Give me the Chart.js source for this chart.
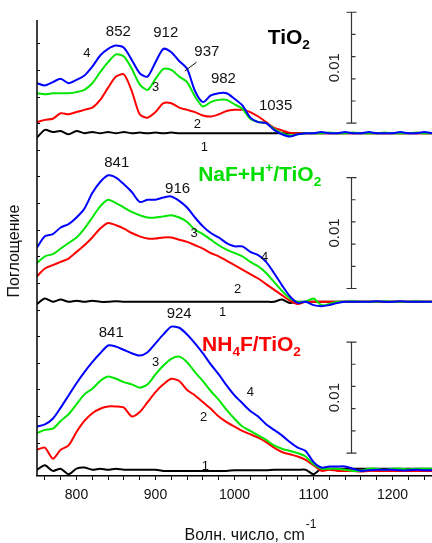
<!DOCTYPE html>
<html>
<head>
<meta charset="utf-8">
<script src="https://cdn.jsdelivr.net/npm/chart.js@4.4.1/dist/chart.umd.min.js"></script>
<style>
  html, body { margin: 0; padding: 0; background: #fff; }
</style>
</head>
<body>
<canvas id="ir-chart" width="432" height="543"></canvas>
<script>
// wavenumber grid, cm-1
const wavenumbers = [750, 760, 770, 780, 790, 800, 810, 820, 830, 840, 850, 860, 870, 880, 890, 900,
  910, 920, 930, 940, 950, 960, 970, 980, 990, 1000, 1010, 1020, 1030, 1040, 1050, 1060, 1070, 1080,
  1090, 1100, 1110, 1120, 1130, 1140, 1150, 1160, 1170, 1180, 1190, 1200, 1210, 1220, 1230, 1240, 1250];

// absorbance, units of 0.001 (scale bar = 0.01 = 10)
// TiO2
const tio2_1 = [-0.4, 0.3, 0.1, 0.2, -0.1, 0.2, 0.0, 0.1, 0.0, 0.1, 0.0, 0.1, 0.0, 0.05, 0.0, 0.05, 0.0, 0.05, 0.0, 0.0,
  0, 0, 0, 0, 0, 0, 0, 0, 0, 0, 0, 0, 0, 0, 0, 0, 0, 0, 0, 0, 0, 0, 0, 0, 0, 0, 0, 0, 0, 0, 0];
const tio2_2 = [1.0, 1.2, 1.3, 1.8, 1.7, 1.9, 2.1, 2.3, 3.0, 4.1, 5.1, 5.3, 3.8, 1.7, 1.4, 1.9, 2.7, 2.7, 2.3, 2.1,
  1.9, 1.6, 1.5, 1.7, 2.0, 2.1, 2.1, 1.9, 1.5, 1.0, 0.5, 0.25, 0.05, 0.0, 0.0,
  0, 0, 0, 0, 0, 0, 0, 0, 0, 0, 0, 0, 0, 0, 0, 0];
const tio2_3 = [3.6, 3.5, 3.6, 3.6, 3.6, 3.7, 3.9, 4.5, 5.5, 6.4, 7.1, 6.9, 5.8, 4.4, 3.9, 4.9, 5.8, 5.7, 5.1, 4.6,
  3.3, 2.4, 2.8, 3.0, 3.0, 2.6, 2.2, 1.3, 1.0, 0.9, 0.4, 0.0, -0.2, -0.1, 0.0,
  0.0, 0.0, 0.05, 0.0, 0.0, 0.05, 0.0, 0.0, 0.0, 0.05, 0.0, 0.0, 0.0, 0.05, 0.0, 0.0];
const tio2_4 = [4.5, 4.3, 4.6, 4.9, 4.5, 4.8, 5.2, 6.0, 7.0, 7.6, 7.9, 7.7, 6.6, 5.4, 5.1, 6.4, 7.6, 7.3, 6.5, 5.8,
  3.8, 2.8, 3.4, 3.6, 3.6, 3.1, 2.5, 1.4, 1.0, 0.9, 0.3, -0.1, -0.3, -0.1, 0.0,
  0.0, 0.1, 0.0, 0.0, 0.1, 0.0, 0.0, 0.1, 0.0, 0.0, 0.0, 0.1, 0.0, 0.0, 0.1, 0.0];

// NaF+H+/TiO2
const naf_1 = [-0.2, 0.3, 0.0, 0.2, 0.0, 0.1, 0.0, 0.1, 0.0, 0.0, 0.05, 0, 0, 0, 0, 0, 0, 0, 0, 0,
  0, 0, 0, 0, 0, 0, 0, 0, 0, 0, 0, 0.2, -0.1, 0, 0, 0, 0, 0, 0, 0, 0, 0, 0, 0, 0, 0, 0, 0, 0, 0, 0];
const naf_2 = [2.3, 3.0, 3.3, 3.6, 3.9, 4.5, 5.1, 5.8, 6.6, 7.1, 6.9, 6.6, 6.2, 5.9, 5.7, 5.7, 5.8, 5.8, 5.6, 5.4,
  5.1, 4.8, 4.4, 4.1, 3.7, 3.3, 2.9, 2.5, 2.1, 1.6, 1.1, 0.6, 0.1, -0.2, 0.0,
  0, 0, 0, 0, 0, 0, 0, 0, 0, 0, 0, 0, 0, 0, 0, 0];
const naf_3 = [3.5, 4.1, 4.3, 4.8, 5.3, 5.8, 6.6, 7.6, 8.6, 9.2, 8.9, 8.5, 8.1, 7.8, 7.6, 7.6, 7.7, 7.8, 7.6, 7.2,
  6.5, 6.1, 5.6, 5.1, 4.7, 4.4, 4.1, 3.6, 3.2, 2.6, 1.8, 1.0, 0.3, 0.0, 0.0,
  0.3, -0.3, -0.2, 0.0, 0.0, 0.05, 0, 0, 0, 0.05, 0, 0, 0, 0.05, 0, 0];
const naf_4 = [4.9, 5.9, 6.1, 6.7, 7.0, 7.6, 8.4, 9.8, 10.8, 11.4, 11.2, 10.6, 9.9, 9.0, 9.2, 9.2, 9.4, 9.5, 9.1, 8.5,
  7.6, 6.8, 6.2, 5.8, 5.3, 5.0, 5.0, 4.5, 4.2, 3.6, 2.6, 1.5, 0.5, -0.1, 0.0,
  -0.3, -0.4, -0.3, -0.1, 0.0, 0, 0, 0, 0.05, 0, 0, 0.05, 0, 0, 0, 0];

// NH4F/TiO2
const nh4f_1 = [0.2, 0.6, 0.1, 0.3, -0.2, 0.3, 0.4, 0.2, 0.3, 0.2, 0.3, 0.2, 0.2, 0.2, 0.2, 0.2, 0.1, 0.1, 0.1, 0.1,
  0.1, 0.1, 0.1, 0.1, 0.1, 0.15, 0.15, 0.15, 0.15, 0.15, 0.2, 0.2, 0.2, 0.2, 0.2,
  -0.2, 0.3, 0.3, 0.3, 0.3, 0.3, 0.3, 0.3, 0.3, 0.3, 0.3, 0.3, 0.3, 0.3, 0.3, 0.3];
const nh4f_2 = [2.0, 2.2, 1.2, 2.0, 2.4, 3.6, 4.6, 5.3, 5.7, 5.9, 5.9, 5.8, 5.0, 5.4, 6.3, 7.2, 7.9, 8.4, 8.2, 7.4,
  6.9, 6.3, 5.7, 5.0, 4.5, 4.1, 3.7, 3.4, 3.1, 2.7, 2.2, 1.8, 1.6, 1.4, 1.1,
  0.6, 0.1, 0.2, 0.1, 0.1, 0.1, 0.05, 0.1, 0.1, 0.1, 0.1, 0.1, 0.1, 0.1, 0.1, 0.1];
const nh4f_3 = [3.5, 3.8, 3.9, 4.6, 5.2, 6.1, 7.0, 7.5, 8.2, 8.6, 8.4, 8.1, 7.9, 7.6, 7.9, 8.8, 9.6, 10.2, 10.4, 9.9,
  9.0, 8.2, 7.3, 6.5, 5.6, 4.8, 4.1, 3.7, 3.3, 2.9, 2.4, 2.1, 1.9, 1.7, 1.4,
  0.7, 0.3, 0.3, 0.3, 0.2, 0.1, 0.1, 0.3, 0.3, 0.2, 0.3, 0.3, 0.25, 0.3, 0.3, 0.3];
const nh4f_4 = [4.1, 4.3, 4.8, 5.8, 6.9, 8.0, 9.0, 9.9, 10.7, 11.4, 11.3, 11.0, 10.7, 10.5, 10.8, 11.6, 12.4, 13.1, 13.0, 12.4,
  11.6, 10.7, 9.7, 8.8, 7.8, 6.9, 6.2, 5.5, 5.0, 4.3, 3.8, 3.3, 2.7, 2.2, 1.9,
  0.9, 0.4, 0.5, 0.5, 0.5, 0.3, 0.1, 0.15, 0.2, 0.2, 0.2, 0.15, 0.15, 0.2, 0.15, 0.15];

// vertical shift of each panel (same units)
const panelOffsets = [30.9, 15.7, 0.36];
const panels = [
  [tio2_4, tio2_3, tio2_2, tio2_1],
  [naf_4, naf_3, naf_2, naf_1],
  [nh4f_4, nh4f_3, nh4f_2, nh4f_1],
];
const curveColors = ["#0000ff", "#00e600", "#ff0000", "#000000"];

const xTicks = [760, 780, 800, 820, 840, 860, 880, 900, 920, 940, 960, 980, 1000, 1020, 1040, 1060, 1080,
  1100, 1120, 1140, 1160, 1180, 1200, 1220, 1240];

// labels: [text, wavenumber, absorbance]
const peakLabels = [
  ["852", 853, 40.0], ["912", 913, 39.9], ["937", 965, 38.2], ["982", 986, 35.8], ["1035", 1052, 33.4],
  ["841", 851, 28.2], ["916", 928, 25.9],
  ["841", 844, 12.9], ["924", 930, 14.6],
];
const curveNumbers = [
  ["4", 813, 38.1], ["3", 900, 35.0], ["2", 953, 31.7], ["1", 962, 29.6],
  ["3", 949, 21.9], ["4", 1038, 19.7], ["2", 1004, 16.8], ["1", 985, 14.7],
  ["3", 900, 10.2], ["2", 961, 5.3], ["4", 1020, 7.5], ["1", 963, 0.9],
];
// panel titles: pieces of text, "sub"/"sup" marks
const panelTitles = [
  { color: "#000", x: 1042, y: 39.5, parts: [["TiO"], ["2", "sub"]] },
  { color: "#00dd00", x: 954, y: 27.1, parts: [["NaF+H"], ["+", "sup"], ["/TiO"], ["2", "sub"]] },
  { color: "#ff0000", x: 959, y: 11.8, parts: [["NH"], ["4", "sub"], ["F/TiO"], ["2", "sub"]] },
];
const scaleBars = [31.8, 16.9, 2.07]; // bottom of each 0.01 bar
const scaleBarX = 1148;

const FONT = "'Liberation Sans', Arial, sans-serif";

const datasets = [];
panels.forEach((curves, p) => {
  curves.forEach((vals, c) => {
    datasets.push({
      data: vals.map((v, i) => ({ x: wavenumbers[i], y: v + panelOffsets[p] })),
      borderColor: curveColors[c],
      borderWidth: 2,
      pointRadius: 0,
      tension: 0.25,
      fill: false,
    });
  });
});

function richText(ctx, parts, x, y, size, color) {
  ctx.fillStyle = color;
  ctx.textBaseline = "middle";
  ctx.textAlign = "left";
  let cx = x;
  parts.forEach(([t, kind]) => {
    let fs = size, dy = 0;
    if (kind === "sub") { fs = size * 0.65; dy = size * 0.35; }
    if (kind === "sup") { fs = size * 0.65; dy = -size * 0.35; }
    ctx.font = "bold " + fs + "px " + FONT;
    ctx.fillText(t, cx, y + dy);
    cx += ctx.measureText(t).width;
  });
}

const overlay = {
  id: "overlay",
  afterDraw(chart) {
    const { ctx, chartArea: a } = chart;
    const xs = chart.scales.x, ys = chart.scales.y;
    ctx.save();

    // left axis with inward ticks
    ctx.strokeStyle = "#000";
    ctx.lineWidth = 1.5;
    ctx.beginPath();
    ctx.moveTo(a.left, a.top);
    ctx.lineTo(a.left, a.bottom);
    ctx.stroke();
    ctx.lineWidth = 1;
    ctx.beginPath();
    for (let v = 3; v < 41; v += 2.4) {
      const py = Math.round(ys.getPixelForValue(v)) + 0.5;
      ctx.moveTo(a.left, py);
      ctx.lineTo(a.left + 3, py);
    }
    ctx.stroke();

    // scale bars
    ctx.strokeStyle = "#333";
    scaleBars.forEach(b => {
      const px = Math.round(xs.getPixelForValue(scaleBarX)) + 0.5;
      const y0 = ys.getPixelForValue(b), y1 = ys.getPixelForValue(b + 10);
      ctx.lineWidth = 1.2;
      ctx.beginPath();
      ctx.moveTo(px, y0); ctx.lineTo(px, y1);
      ctx.moveTo(px - 5, y0); ctx.lineTo(px + 5, y0);
      ctx.moveTo(px - 5, y1); ctx.lineTo(px + 5, y1);
      for (let k = 1; k < 5; k++) {
        const yk = ys.getPixelForValue(b + 2 * k);
        ctx.moveTo(px, yk); ctx.lineTo(px + 4, yk);
      }
      ctx.stroke();
      ctx.save();
      ctx.translate(px - 17, (y0 + y1) / 2);
      ctx.rotate(-Math.PI / 2);
      ctx.fillStyle = "#222";
      ctx.font = "15px " + FONT;
      ctx.textAlign = "center";
      ctx.textBaseline = "middle";
      ctx.fillText("0.01", 0, 0);
      ctx.restore();
    });

    // peak positions
    ctx.fillStyle = "#111";
    ctx.font = "15px " + FONT;
    ctx.textAlign = "center";
    ctx.textBaseline = "middle";
    peakLabels.forEach(([t, x, y]) => ctx.fillText(t, xs.getPixelForValue(x), ys.getPixelForValue(y)));
    // leader line for 937
    ctx.strokeStyle = "#111";
    ctx.lineWidth = 1;
    ctx.beginPath();
    ctx.moveTo(xs.getPixelForValue(937), ys.getPixelForValue(36.5));
    ctx.lineTo(xs.getPixelForValue(952), ys.getPixelForValue(37.3));
    ctx.stroke();

    ctx.font = "13px " + FONT;
    curveNumbers.forEach(([t, x, y]) => ctx.fillText(t, xs.getPixelForValue(x), ys.getPixelForValue(y)));

    panelTitles.forEach(pt => richText(ctx, pt.parts, xs.getPixelForValue(pt.x), ys.getPixelForValue(pt.y), 21, pt.color));

    // axis titles
    ctx.fillStyle = "#111";
    ctx.font = "16px " + FONT;
    ctx.textBaseline = "alphabetic";
    ctx.textAlign = "left";
    const main = "Волн. число, cm";
    const w = ctx.measureText(main).width;
    ctx.font = "12px " + FONT;
    const ws = ctx.measureText("-1").width;
    const x0 = 250 - (w + ws) / 2;
    ctx.font = "16px " + FONT;
    ctx.fillText(main, x0, 540);
    ctx.font = "12px " + FONT;
    ctx.fillText("-1", x0 + w + 1, 528);

    ctx.save();
    ctx.translate(15, 251);
    ctx.rotate(-Math.PI / 2);
    ctx.font = "16px " + FONT;
    ctx.textAlign = "center";
    ctx.textBaseline = "middle";
    ctx.fillText("Поглощение", 0, 0);
    ctx.restore();

    ctx.restore();
  },
};

const config = {
  type: "line",
  data: { datasets: datasets },
  options: {
    responsive: false,
    animation: false,
    devicePixelRatio: 1,
    layout: { padding: { left: 37, top: 20, right: 0, bottom: 0 } },
    plugins: { legend: { display: false }, tooltip: { enabled: false } },
    scales: {
      x: {
        type: "linear",
        min: 750,
        max: 1250,
        afterBuildTicks: s => { s.ticks = xTicks.map(v => ({ value: v })); },
        afterFit: s => { s.height = 67; },
        ticks: {
          autoSkip: false,
          maxRotation: 0,
          padding: 7,
          color: "#111",
          font: { family: FONT, size: 14 },
          callback: v => (v % 100 === 0 ? String(v) : ""),
        },
        grid: { drawOnChartArea: false, tickLength: 4, color: "#000", lineWidth: 1 },
        border: { color: "#000", width: 1.5 },
      },
      y: { display: false, min: 0, max: 41.1 },
    },
  },
  plugins: [overlay],
};

let myChart = new Chart(document.getElementById("ir-chart"), config);
</script>
</body>
</html>
